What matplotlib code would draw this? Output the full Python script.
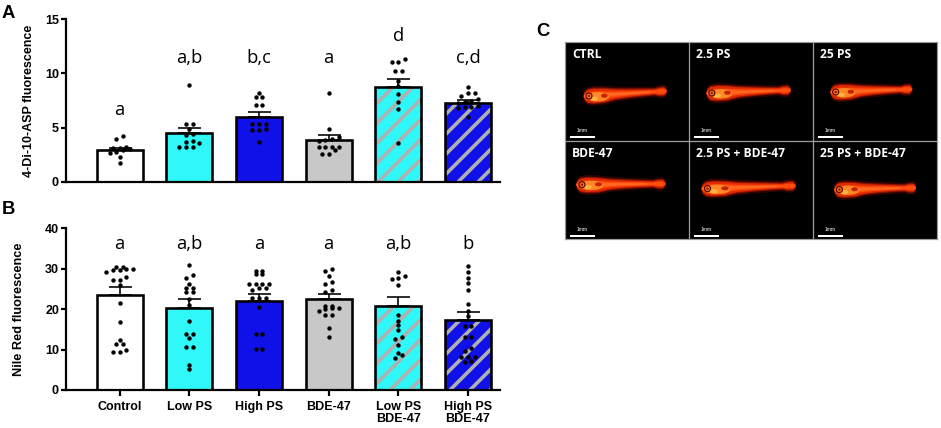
import numpy as np
import matplotlib
matplotlib.use('Agg')
import matplotlib.pyplot as plt
from matplotlib.patches import Polygon, Ellipse, Circle

# ---------------- data ----------------
groups = ['Control', 'Low PS', 'High PS', 'BDE-47', 'Low PS\nBDE-47', 'High PS\nBDE-47']

a_means = [2.9, 4.5, 5.95, 3.85, 8.75, 7.3]
a_sem = [0.25, 0.5, 0.45, 0.46, 0.75, 0.28]
a_points = [
    [4.25, 4.0, 3.2, 3.15, 3.1, 3.0, 2.9, 2.8, 2.7, 2.3, 1.75],
    [8.95, 5.35, 5.3, 4.85, 4.45, 4.3, 3.75, 3.7, 3.55, 3.25, 3.25, 3.25],
    [8.2, 7.85, 7.85, 7.1, 7.1, 5.35, 5.35, 5.3, 4.85, 4.8, 4.75, 3.65],
    [8.2, 4.85, 4.1, 4.0, 3.9, 3.8, 3.25, 3.2, 3.2, 3.2, 2.9, 2.6, 2.6],
    [11.3, 11.0, 11.0, 10.2, 10.2, 9.3, 8.8, 8.1, 7.4, 6.7, 3.6],
    [8.7, 8.2, 8.2, 7.9, 7.6, 7.5, 7.4, 7.3, 7.0, 6.9, 6.9, 6.85, 5.95],
]
a_letters = ['a', 'a,b', 'b,c', 'a', 'd', 'c,d']

b_means = [23.4, 20.3, 22.0, 22.4, 20.7, 17.4]
b_sem = [2.1, 2.2, 1.6, 1.2, 2.2, 1.9]
b_points = [
    [30.0, 29.7, 30.3, 30.3, 30.0, 29.2, 29.7, 28.0, 27.2, 27.2, 25.9, 21.4, 16.7,
     12.3, 11.4, 11.4, 9.3, 10.0, 9.5],
    [30.9, 28.4, 27.7, 26.2, 25.3, 25.3, 24.3, 24.3, 22.5, 21.0, 17.1, 13.8, 13.8,
     12.8, 10.5, 10.7, 6.2, 5.3],
    [29.5, 29.5, 28.6, 28.6, 26.2, 26.2, 26.2, 26.2, 24.7, 25.2, 25.2, 22.6, 22.6,
     22.6, 20.4, 13.8, 13.8, 10.1, 10.1],
    [29.5, 29.9, 28.2, 26.6, 26.2, 24.7, 24.1, 20.7, 20.0, 20.2, 20.2, 20.8, 18.4,
     18.4, 19.4, 15.2, 13.2],
    [29.1, 28.1, 27.4, 27.7, 26.0, 18.4, 17.0, 16.1, 14.7, 13.2, 12.6, 11.1, 9.1,
     8.6, 7.8],
    [30.5, 29.1, 27.6, 26.4, 24.6, 21.2, 19.6, 18.2, 15.9, 15.9, 13.0, 13.0, 10.3,
     9.7, 8.2, 8.2, 8.2, 7.0, 7.2],
]
b_letters = ['a', 'a,b', 'a', 'a', 'a,b', 'b']

a_yticks = [0, 5, 10, 15]
b_yticks = [0, 10, 20, 30, 40]

c_titles = ['CTRL', '2.5 PS', '25 PS', 'BDE-47', '2.5 PS + BDE-47', '25 PS + BDE-47']

# ---------------- style ----------------
DPI = 120
W, H = 941, 428
def pt(px):
    return px * 72.0 / DPI

plt.rcParams['font.family'] = ['Liberation Sans', 'DejaVu Sans']
plt.rcParams['hatch.linewidth'] = pt(3.6)

CYAN = '#30f8f8'
BLUE = '#1010e8'
GRAY = '#c8c8c8'
HATCH = '#b0b0b0'
face = ['white', CYAN, BLUE, GRAY, CYAN, BLUE]
hatched = [False, False, False, False, True, True]

fig = plt.figure(figsize=(W / DPI, H / DPI), dpi=DPI)

def axpos(l, t, r, b):
    return [l / W, 1 - b / H, (r - l) / W, (b - t) / H]

axA = fig.add_axes(axpos(66, 19, 500, 182))
axB = fig.add_axes(axpos(66, 228, 500, 390))

x = np.arange(len(groups))
BW = 0.66

def swarm_offsets(vals, ax, dx_px=6.7, row_px=3.6):
    # group points into horizontal rows (in pixel space) and centre each row
    yp = ax.transData.transform(np.column_stack([np.zeros(len(vals)), vals]))[:, 1]
    x0 = ax.transData.transform([(0, 0)])[0, 0]
    x1 = ax.transData.transform([(1, 0)])[0, 0]
    ppu = x1 - x0
    order = np.argsort(yp)
    offs = np.zeros(len(vals))
    rows = []
    cur = [order[0]]
    for i in order[1:]:
        if yp[i] - yp[cur[0]] < row_px:
            cur.append(i)
        else:
            rows.append(cur)
            cur = [i]
    rows.append(cur)
    for r in rows:
        n = len(r)
        for k, idx in enumerate(r):
            offs[idx] = (k - (n - 1) / 2) * dx_px / ppu
    return offs

def panel(ax, means, sem, points, letters, yticks, letter_y, xlabels):
    ax.set_xlim(-0.77, 5.46)
    ax.set_ylim(yticks[0], yticks[-1])
    for i in range(len(groups)):
        if hatched[i]:
            ax.bar(x[i], means[i], BW, color=face[i], edgecolor=HATCH, hatch='//',
                   linewidth=0, zorder=2)
            ax.bar(x[i], means[i], BW, fill=False, edgecolor='black',
                   linewidth=pt(2.6), zorder=3)
        else:
            ax.bar(x[i], means[i], BW, color=face[i], edgecolor='black',
                   linewidth=pt(2.6), zorder=2)
    for i in range(len(groups)):
        vals = np.array(points[i])
        offs = swarm_offsets(vals, ax)
        ax.scatter(x[i] + offs, vals, s=pt(4.4) ** 2, color='black', zorder=4,
                   linewidths=0, clip_on=False)
    ax.errorbar(x, means, yerr=[np.zeros(len(means)), sem], fmt='none',
                ecolor='black', elinewidth=pt(1.6), capsize=pt(11.5),
                capthick=pt(1.6), zorder=5)
    for i, lab in enumerate(letters):
        ax.text(x[i], letter_y[i], lab, ha='center', va='baseline',
                fontsize=11, family=['Open Sans', 'DejaVu Sans'], zorder=6)
    for s in ['top', 'right']:
        ax.spines[s].set_visible(False)
    for s in ['left', 'bottom']:
        ax.spines[s].set_linewidth(pt(2.2))
    ax.set_yticks(yticks)
    ax.set_yticklabels([str(v) for v in yticks], fontweight='bold', fontsize=pt(12.5))
    ax.tick_params(axis='y', length=pt(5), width=pt(2.2), pad=pt(2))
    if xlabels:
        ax.set_xticks(x)
        ax.set_xticklabels(groups, fontweight='bold', fontsize=pt(12.5), linespacing=0.95)
        ax.tick_params(axis='x', length=pt(6), width=pt(2.2), pad=pt(5))
    else:
        ax.set_xticks([])

panel(axA, a_means, a_sem, a_points, a_letters, a_yticks,
      [6.17, 10.94, 10.94, 10.94, 13.0, 10.94], False)
panel(axB, b_means, b_sem, b_points, b_letters, b_yticks,
      [34.7] * 6, True)

axA.set_ylabel('4-Di-10-ASP fluorescence', fontweight='bold', fontsize=pt(12.5))
axA.yaxis.set_label_coords(-0.071, 0.5)
axB.set_ylabel('Nile Red fluorescence', fontweight='bold', fontsize=pt(12.8))
axB.yaxis.set_label_coords(-0.094, 0.5)

# panel letters
fig.text(2 / W, 1 - 18 / H, 'A', fontsize=pt(18.5), fontweight='bold', va='baseline')
fig.text(2 / W, 1 - 214 / H, 'B', fontsize=pt(18.5), fontweight='bold', va='baseline')
fig.text(536 / W, 1 - 36 / H, 'C', fontsize=pt(18.5), fontweight='bold', va='baseline')

# ---------------- panel C: fluorescence images ----------------
axC = fig.add_axes(axpos(565, 42, 937, 239))
CW, CH = 372, 197
axC.set_xlim(0, CW)
axC.set_ylim(CH, 0)
axC.set_facecolor('black')
axC.set_xticks([])
axC.set_yticks([])
for s in axC.spines.values():
    s.set_color('#9a9a9a')
    s.set_linewidth(pt(1.2))
pw, ph = CW / 3, CH / 2
for k in (1, 2):
    axC.axvline(k * pw, color='#9a9a9a', lw=pt(1.3))
axC.axhline(ph, color='#9a9a9a', lw=pt(1.3))

fish = [  # (x start frac, x end frac, head y frac, tail rise px) inside each picture
    (0.15, 0.82, 0.55, 5), (0.14, 0.82, 0.52, 3), (0.14, 0.80, 0.51, 3),
    (0.09, 0.81, 0.45, 1), (0.10, 0.86, 0.49, 3), (0.17, 0.83, 0.50, 2),
]

def draw_fish(ax, x0, x1, yc, rise):
    L = x1 - x0
    t = np.linspace(0, 1, 140)
    tt = [0, 0.015, 0.05, 0.12, 0.25, 0.38, 0.55, 0.75, 0.86, 0.91, 0.97, 1.0]
    hu = np.interp(t, tt, [0, 3.6, 6.0, 6.8, 6.2, 4.8, 3.9, 3.0, 2.5, 3.6, 3.8, 1.0])
    hl = np.interp(t, tt, [0, 3.6, 6.4, 7.4, 7.0, 4.6, 3.4, 2.6, 2.3, 3.6, 3.8, 1.0])
    xs = x0 + t * L
    yline = yc - rise * t

    def poly(sc, add, color, alpha=1.0, tmax=1.0):
        m = t <= tmax
        up = np.column_stack([xs[m], (yline - hu * sc - add)[m]])
        lo = np.column_stack([xs[m][::-1], (yline + hl * sc + add)[m][::-1]])
        ax.add_patch(Polygon(np.vstack([up, lo]), closed=True, facecolor=color,
                             edgecolor='none', alpha=alpha))
    poly(1.0, 3.0, '#300500', 0.9)
    poly(1.0, 1.2, '#8a1200')
    poly(1.0, 0.0, '#e02a00')
    poly(0.6, 0.0, '#ff4c10')
    poly(0.28, 0.0, '#ff6a20', tmax=0.8)
    ax.add_patch(Ellipse((x0 + 0.17 * L, yc + 0.6), 0.27 * L, 9.5,
                         facecolor='#ff8a28', edgecolor='none', alpha=0.95))
    ax.add_patch(Ellipse((x0 + 0.13 * L, yc + 2.5), 0.09 * L, 4.5,
                         facecolor='#ffb040', edgecolor='none'))
    ax.add_patch(Ellipse((x0 + 0.25 * L, yc - 0.5), 0.08 * L, 4.0,
                         facecolor='#c82000', edgecolor='none'))
    ax.add_patch(Circle((x0 + 0.065 * L, yc - 0.2), 3.0, facecolor='#ff7a28',
                        edgecolor='#5a0600', lw=pt(1.2)))
    ax.add_patch(Circle((x0 + 0.065 * L, yc - 0.2), 1.2, facecolor='#8a1000',
                        edgecolor='none'))

for idx, title in enumerate(c_titles):
    col, row = idx % 3, idx // 3
    px0, py0 = col * pw, row * ph
    fx0, fx1, fy, rise = fish[idx]
    draw_fish(axC, px0 + fx0 * pw, px0 + fx1 * pw, py0 + fy * ph, rise)
    axC.text(px0 + 0.055 * pw, py0 + 0.165 * ph, title, color='white', fontsize=pt(12),
             fontweight='bold', family=['Open Sans', 'DejaVu Sans'], va='baseline')
    axC.plot([px0 + 0.04 * pw, px0 + 0.24 * pw], [py0 + 0.965 * ph] * 2,
             color='white', lw=pt(2.0), solid_capstyle='butt')
    axC.text(px0 + 0.14 * pw, py0 + 0.915 * ph, '1mm', color='white', fontsize=pt(5),
             ha='center', va='baseline')

fig.savefig('out.png', dpi=DPI)
